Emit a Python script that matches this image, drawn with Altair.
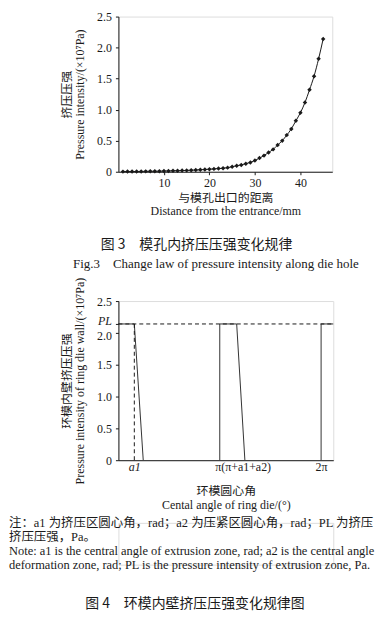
import altair as alt
import pandas as pd

SERIF = "Liberation Serif, Noto Sans CJK SC"
CJK = "Noto Sans CJK SC"
INK = "#1a1a1a"

# ---------- Figure 3 data ----------
dist = list(range(1, 46))
pressure = [0.002, 0.003, 0.003, 0.004, 0.005, 0.006, 0.007, 0.008, 0.009, 0.011,
            0.013, 0.015, 0.017, 0.019, 0.022, 0.025, 0.028, 0.032, 0.036, 0.041,
            0.046, 0.051, 0.056, 0.066, 0.080, 0.097, 0.110, 0.130, 0.150, 0.180,
            0.220, 0.260, 0.310, 0.360, 0.430, 0.500, 0.590, 0.690, 0.820, 0.950,
            1.115, 1.320, 1.540, 1.820, 2.140]
y1_ticks = [0, 0.5, 1.0, 1.5, 2.0, 2.5]
x1_ticks = [10, 20, 30, 40]

# ---------- Figure 4 data (angle in units of pi) ----------
PL = 2.14
A1 = 0.157
X_END = 2.12
seg_names = ["s1", "s1", "s1", "s2", "s2", "s2", "s2", "s3", "s3", "s3"]
seg_x = [0, A1, 0.245, 1.0, 1.0, 1.167, 1.248, 2.0, 2.0, X_END]
seg_y = [PL, PL, 0, 0, PL, PL, 0, 0, PL, PL]
x2_ticks = [A1, 1.0, 2.0]
x2_labels = ["a1", "π(π+a1+a2)", "2π"]
y2_ticks = [0, 0.5, 1.0, 1.5, 2.0, PL, 2.5]

notes = [
    "注：a1 为挤压区圆心角，rad；a2 为压紧区圆心角，rad；PL 为挤压区",
    "挤压压强，Pa。",
    "Note: a1 is the central angle of extrusion zone, rad; a2 is the central angle of",
    "deformation zone, rad; PL is the pressure intensity of extrusion zone, Pa.",
]

df1 = pd.DataFrame({"dist": dist, "p": pressure})
df_seg = pd.DataFrame({"seg": seg_names, "x": seg_x, "y": seg_y,
                       "o": list(range(len(seg_x)))})
df_hdash = pd.DataFrame({"x": [0.0], "x1": [X_END], "y": [PL]})
df_vdash = pd.DataFrame({"x": [A1], "y": [0.0], "y1": [PL]})
df_notes = pd.DataFrame({"i": list(range(len(notes))), "t": notes})

lab = dict(labelFont=SERIF, labelFontSize=12, labelColor=INK, labelOverlap=False,
           labelBound=False, grid=False)

# ---------- Figure 3 ----------
ax1 = alt.Axis(values=x1_ticks, labelPadding=3, titlePadding=4,
               title=["与模孔出口的距离", "Distance from the entrance/mm"], **lab)
ay1 = alt.Axis(values=y1_ticks, labelPadding=4, titlePadding=10,
               labelExpr="datum.value == 0 ? '0' : format(datum.value, '.1f')",
               title=["挤压压强", "Pressure intensity/(×10⁷Pa)"], **lab)
sx1 = alt.Scale(domain=[0, 47], nice=False)
sy1 = alt.Scale(domain=[0, 2.5], nice=False)
base1 = alt.Chart(df1).encode(x=alt.X("dist:Q", scale=sx1, axis=ax1),
                              y=alt.Y("p:Q", scale=sy1, axis=ay1))
line1 = base1.mark_line(interpolate="monotone", color=INK, strokeWidth=1)
pts1 = base1.mark_point(shape="diamond", filled=True, size=20, color=INK, opacity=1)
chart1 = alt.layer(line1, pts1).properties(
    width=215, height=156,
    title=alt.TitleParams(
        text="图 3　模孔内挤压压强变化规律",
        subtitle="\u200d\u3000\u3000\u3000Fig.3　Change law of pressure intensity along die hole",
        orient="bottom", anchor="middle", frame="bounds", offset=22,
        font=CJK, fontSize=14, fontWeight="normal", color=INK,
        subtitleFont=SERIF, subtitleFontSize=13, subtitleColor=INK,
        subtitlePadding=6))

# ---------- Figure 4 ----------
sx2 = alt.Scale(domain=[0, X_END], nice=False)
sy2 = alt.Scale(domain=[0, 2.5], nice=False)
label_map = " : ".join(
    [f"datum.value == {v} ? '{l}'" for v, l in zip(x2_ticks, x2_labels)]) + " : ''"
ax2 = alt.Axis(values=x2_ticks, labelExpr=label_map, labelPadding=1,
               titlePadding=13, tickSize=0, titleLineHeight=15,
               labelFontStyle={"condition": {"test": "datum.value < 0.5", "value": "italic"},
                               "value": "normal"},
               labelOffset={"condition": {"test": "datum.value == 1", "value": 23},
                            "value": 0},
               title=["环模圆心角", "Cental angle of ring die/(°)"], **lab)
ay2 = alt.Axis(values=y2_ticks, labelPadding=4, titlePadding=10,
               labelExpr=f"datum.value == 0 ? '0' : (datum.value == {PL} ? 'PL' : format(datum.value, '.1f'))",
               labelFontStyle={"condition": {"test": f"datum.value == {PL}", "value": "italic"},
                               "value": "normal"},
               labelOffset={"condition": [{"test": f"datum.value == {PL}", "value": -3},
                                          {"test": "datum.value == 2", "value": 3}],
                            "value": 0},
               title=["环模内壁挤压压强", "Pressure intensity of ring die wall/(×10⁷Pa)"], **lab)
X2 = alt.X("x:Q", scale=sx2, axis=ax2)
Y2 = alt.Y("y:Q", scale=sy2, axis=ay2)

segs = alt.Chart(df_seg).mark_line(color="#333", strokeWidth=1).encode(
    x=X2, y=Y2, detail="seg:N", order="o:Q")
hdash = alt.Chart(df_hdash).mark_rule(color=INK, strokeWidth=1, strokeDash=[4, 3]).encode(
    x=X2, x2="x1:Q", y=Y2)
vdash = alt.Chart(df_vdash).mark_rule(color=INK, strokeWidth=1, strokeDash=[4, 3]).encode(
    x=X2, y=Y2, y2="y1:Q")
chart2 = alt.layer(segs, hdash, vdash).properties(width=216, height=160)

# ---------- Notes + Figure 4 caption ----------
notes_chart = alt.Chart(df_notes).mark_text(
    align="left", baseline="middle", font=SERIF, fontSize=12.5, color=INK,
    limit=374, ellipsis=" ").encode(
    x=alt.value(-110),
    y=alt.Y("i:Q", scale=alt.Scale(domain=[0, 3], reverse=True), axis=None),
    text="t:N").properties(
    width=216, height=42,
    title=alt.TitleParams(text="图 4　环模内壁挤压压强变化规律图", orient="bottom",
                          anchor="middle", frame="bounds", offset=26, font=CJK,
                          fontSize=14, fontWeight="normal", color=INK))

chart = alt.vconcat(chart1, chart2, notes_chart, spacing=4).properties(
    padding={"left": 0, "top": 0, "right": 0, "bottom": 0}
).configure_view(stroke=None).configure(background="white").configure_axis(
    labelFont=SERIF, labelFontSize=12, labelColor=INK, labelOverlap=False,
    titleFont=SERIF, titleFontSize=12, titleColor=INK, titleFontWeight="normal",
    titleLineHeight=13, domainColor=INK, tickColor=INK, tickSize=3, grid=False)

chart.save("out.html", embed_options={"renderer": "svg", "actions": False})
